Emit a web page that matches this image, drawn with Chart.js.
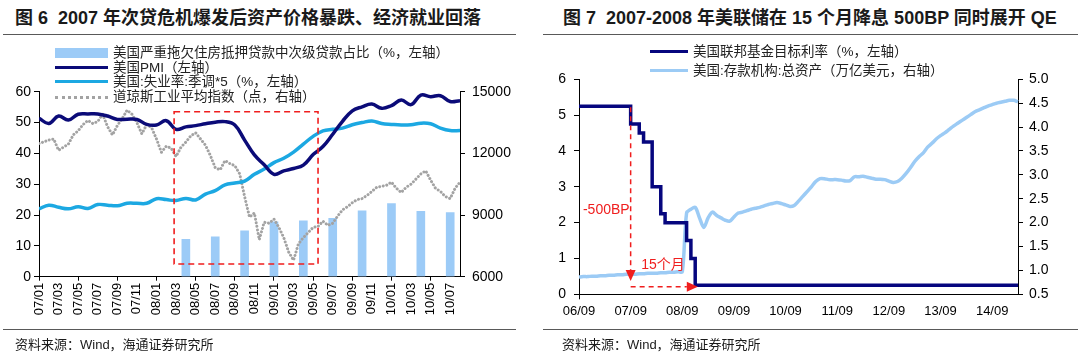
<!DOCTYPE html>
<html lang="zh-CN">
<head>
<meta charset="utf-8">
<title>次贷危机与美联储降息</title>
<script src="https://cdn.jsdelivr.net/npm/chart.js@4.4.1/dist/chart.umd.min.js"></script>
<style>
    body {
        margin: 0;
        width: 1080px;
        height: 359px;
        overflow: hidden;
        background: #fff;
        font-family: "Liberation Sans", "Noto Sans CJK SC", sans-serif;
        color: #1a1a1a;
    }
    .panel { position: absolute; top: 0; width: 540px; height: 359px; }
    .title { position: absolute; top: 7px; font-size: 18px; font-weight: bold; line-height: 22px; white-space: nowrap; }
    .rule { position: absolute; border-top: 1.5px solid #595959; }
    .source { position: absolute; top: 336px; font-size: 13px; line-height: 18px; white-space: nowrap; }
    .legend-item { position: absolute; height: 16px; line-height: 16px; font-size: 13.5px; white-space: nowrap; color: #222; }
    .swatch { position: absolute; }
    canvas { position: absolute; top: 40px; left: 0; }
</style>
</head>
<body>

<div class="panel" style="left:0">
    <div class="title" style="left:15px">图 6&nbsp;&nbsp;2007 年次贷危机爆发后资产价格暴跌、经济就业回落</div>
    <div class="rule" style="top:34px; left:3px; width:513px"></div>
    <canvas id="left-chart" width="530" height="290"></canvas>
    <div id="left-legend"></div>
    <div class="rule" style="top:329px; left:3px; width:513px"></div>
    <div class="source" style="left:15px">资料来源：Wind，海通证券研究所</div>
</div>

<div class="panel" style="left:540px">
    <div class="title" style="left:23px">图 7&nbsp;&nbsp;2007-2008 年美联储在 15 个月降息 500BP 同时展开 QE</div>
    <div class="rule" style="top:34px; left:3px; width:535px"></div>
    <canvas id="right-chart" width="540" height="290"></canvas>
    <div id="right-legend"></div>
    <div class="rule" style="top:329px; left:3px; width:535px"></div>
    <div class="source" style="left:22px">资料来源：Wind，海通证券研究所</div>
</div>

<script>
/**
 * 图6 / 图7: subprime crisis charts
 * Monthly values.
 */

// ---- 图6 ----
const LEFT_LABELS = [
    '07/01', '07/02', '07/03', '07/04', '07/05', '07/06', '07/07', '07/08', '07/09', '07/10', '07/11', '07/12',
    '08/01', '08/02', '08/03', '08/04', '08/05', '08/06', '08/07', '08/08', '08/09', '08/10', '08/11', '08/12',
    '09/01', '09/02', '09/03', '09/04', '09/05', '09/06', '09/07', '09/08', '09/09', '09/10', '09/11', '09/12',
    '10/01', '10/02', '10/03', '10/04', '10/05', '10/06', '10/07', '10/08'
];

const PMI_VALUES = [
    51.4, 49.7, 52.1, 50.8, 52.7, 52.8, 52.8, 52.1, 51.0, 51.1, 51.0, 49.4,
    49.2, 50.6, 47.8, 48.6, 49.0, 49.6, 50.1, 50.3, 49.2, 44.3, 39.5, 36.3,
    33.2, 34.3, 35.1, 36.2, 39.6, 42.2, 46.2, 50.4, 53.8, 55.1, 56.0, 54.6,
    55.5, 57.3, 55.8, 58.9, 58.4, 58.7, 56.8, 57.1
];

// unemployment rate x5
const UNEMP_VALUES = [
    22.0, 23.2, 22.5, 22.0, 22.7, 22.1, 23.4, 23.2, 23.0, 23.8, 23.8, 23.8,
    25.3, 25.0, 24.7, 25.4, 24.9, 26.8, 27.9, 29.8, 30.4, 31.0, 33.2, 34.9,
    37.0, 38.4, 40.4, 43.0, 45.5, 47.3, 47.8, 48.2, 49.3, 50.0, 50.5, 49.7,
    49.4, 49.2, 49.3, 49.8, 49.6, 48.2, 47.4, 47.4
];

const BAR_MONTHS = ['08/04', '08/07', '08/10', '09/01', '09/04', '09/07', '09/10', '10/01', '10/04', '10/07'];
const BAR_VALUES = [12.1, 12.9, 14.9, 17.8, 18.1, 18.9, 21.4, 23.7, 21.2, 20.8];

// Dow Jones, twice a month from 07/01
const DOW_STEP = 0.5;
const DOW_VALUES = [
    12480, 12560, 12650, 12700, 12150, 12300, 12450, 12900, 13100, 13400,
    13600, 13450, 13550, 13900, 13300, 12900, 13350, 13700, 14100, 13900,
    13500, 12950, 13400, 13250, 12700, 12050, 12350, 12250, 11850, 12300,
    12550, 12850, 13000, 12700, 12400, 11900, 11300, 11200, 11650, 11500,
    11400, 11000, 9900, 8900, 9100, 7800, 8650, 8600, 8800, 8400,
    7900, 7200, 6800, 7600, 7900, 8150, 8400, 8450, 8700, 8500,
    8600, 8950, 9250, 9400, 9600, 9750, 9800, 9950, 10150, 10350,
    10400, 10450, 10600, 10300, 10100, 10350, 10500, 10750, 11000, 11150,
    10700, 10300, 10150, 9900, 9800, 10300, 10600
];

// dashed box, in month index / left-axis units
const CRISIS_BOX = { from: 13.8, to: 28.5, low: 4.1, high: 53.5 };

// ---- 图7 ----
const RIGHT_LABELS = [
    '06/09', '06/10', '06/11', '06/12',
    '07/01', '07/02', '07/03', '07/04', '07/05', '07/06', '07/07', '07/08', '07/09', '07/10', '07/11', '07/12',
    '08/01', '08/02', '08/03', '08/04', '08/05', '08/06', '08/07', '08/08', '08/09', '08/10', '08/11', '08/12',
    '09/01', '09/02', '09/03', '09/04', '09/05', '09/06', '09/07', '09/08', '09/09', '09/10', '09/11', '09/12',
    '10/01', '10/02', '10/03', '10/04', '10/05', '10/06', '10/07', '10/08', '10/09', '10/10', '10/11', '10/12',
    '11/01', '11/02', '11/03', '11/04', '11/05', '11/06', '11/07', '11/08', '11/09', '11/10', '11/11', '11/12',
    '12/01', '12/02', '12/03', '12/04', '12/05', '12/06', '12/07', '12/08', '12/09', '12/10', '12/11', '12/12',
    '13/01', '13/02', '13/03', '13/04', '13/05', '13/06', '13/07', '13/08', '13/09', '13/10', '13/11', '13/12',
    '14/01', '14/02', '14/03', '14/04', '14/05', '14/06', '14/07', '14/08', '14/09', '14/10', '14/11', '14/12',
    '15/01', '15/02', '15/03'
];

const FED_RATE = [
    5.25, 5.25, 5.25, 5.25,
    5.25, 5.25, 5.25, 5.25, 5.25, 5.25, 5.25, 5.25, 4.75, 4.75, 4.5, 4.25,
    4.25, 3.0, 3.0, 2.25, 2.0, 2.0, 2.0, 2.0, 2.0, 1.5, 1.0, 0.25,
    0.25, 0.25, 0.25, 0.25, 0.25, 0.25, 0.25, 0.25, 0.25, 0.25, 0.25, 0.25,
    0.25, 0.25, 0.25, 0.25, 0.25, 0.25, 0.25, 0.25, 0.25, 0.25, 0.25, 0.25,
    0.25, 0.25, 0.25, 0.25, 0.25, 0.25, 0.25, 0.25, 0.25, 0.25, 0.25, 0.25,
    0.25, 0.25, 0.25, 0.25, 0.25, 0.25, 0.25, 0.25, 0.25, 0.25, 0.25, 0.25,
    0.25, 0.25, 0.25, 0.25, 0.25, 0.25, 0.25, 0.25, 0.25, 0.25, 0.25, 0.25,
    0.25, 0.25, 0.25, 0.25, 0.25, 0.25, 0.25, 0.25, 0.25, 0.25, 0.25, 0.25,
    0.25, 0.25, 0.25
];

const BANK_ASSETS = [
    0.86, 0.87, 0.87, 0.88,
    0.88, 0.89, 0.89, 0.90, 0.90, 0.91, 0.91, 0.92, 0.92, 0.92, 0.93, 0.93,
    0.94, 0.94, 0.94, 0.95, 0.95, 0.96, 0.96, 0.97, 0.97, 2.20, 2.28, 2.32,
    2.10, 1.90, 2.10, 2.22, 2.15, 2.10, 2.05, 2.03, 2.12, 2.20, 2.22, 2.25,
    2.28, 2.30, 2.32, 2.35, 2.38, 2.40, 2.42, 2.40, 2.37, 2.34, 2.36, 2.45,
    2.55, 2.65, 2.75, 2.86, 2.92, 2.92, 2.90, 2.90, 2.90, 2.89, 2.87, 2.88,
    2.96, 2.96, 2.97, 2.95, 2.93, 2.91, 2.91, 2.90, 2.87, 2.84, 2.86, 2.93,
    3.03, 3.15, 3.28, 3.38, 3.46, 3.58, 3.66, 3.75, 3.82, 3.88, 3.95, 4.02,
    4.08, 4.14, 4.20, 4.26, 4.32, 4.36, 4.40, 4.44, 4.47, 4.50, 4.52, 4.54,
    4.56, 4.56, 4.53
];

// arrows: month index / left-axis units
const RATE_CUT = { start: 12, end: 27.6, top: 5.22, bottom: 0.37, level: 0.21 };
const CUT_LABEL = { text: '-500BP', value: 2.35 };
const SPAN_LABEL = { text: '15个月', index: 19.5, value: 0.82 };

const RED = '#F01E1E';
const AXIS_FONT = 'Liberation Sans, Arial, sans-serif';

function axisStyle(size) {
    return {
        color: '#000',
        font: { family: AXIS_FONT, size: size }
    };
}

function drawArrow(ctx, x1, y1, x2, y2) {
    const angle = Math.atan2(y2 - y1, x2 - x1);
    const headLen = 11;
    const half = 5;
    const bx = x2 - headLen * Math.cos(angle);
    const by = y2 - headLen * Math.sin(angle);

    ctx.beginPath();
    ctx.moveTo(x1, y1);
    ctx.lineTo(bx, by);
    ctx.stroke();

    ctx.setLineDash([]);
    ctx.beginPath();
    ctx.moveTo(x2, y2);
    ctx.lineTo(bx + half * Math.sin(angle), by - half * Math.cos(angle));
    ctx.lineTo(bx - half * Math.sin(angle), by + half * Math.cos(angle));
    ctx.closePath();
    ctx.fill();
}

const crisisBoxPlugin = {
    id: 'crisisBox',
    afterDatasetsDraw(chart) {
        const { ctx } = chart;
        const x = chart.scales.x;
        const y = chart.scales.y;
        const left = x.getPixelForValue(CRISIS_BOX.from);
        const right = x.getPixelForValue(CRISIS_BOX.to);
        const top = y.getPixelForValue(CRISIS_BOX.high);
        const bottom = y.getPixelForValue(CRISIS_BOX.low);

        ctx.save();
        ctx.strokeStyle = RED;
        ctx.lineWidth = 1.6;
        ctx.setLineDash([6, 4]);
        ctx.strokeRect(left, top, right - left, bottom - top);
        ctx.restore();
    }
};

const rateCutPlugin = {
    id: 'rateCut',
    afterDatasetsDraw(chart) {
        const { ctx } = chart;
        const x = chart.scales.x;
        const y = chart.scales.y;
        const x0 = x.getPixelForValue(RATE_CUT.start);
        const x1 = x.getPixelForValue(RATE_CUT.end);

        ctx.save();
        ctx.strokeStyle = RED;
        ctx.fillStyle = RED;
        ctx.lineWidth = 1.5;

        ctx.setLineDash([5, 4]);
        drawArrow(ctx, x0, y.getPixelForValue(RATE_CUT.top), x0, y.getPixelForValue(RATE_CUT.bottom));

        ctx.setLineDash([5, 4]);
        const yl = y.getPixelForValue(RATE_CUT.level);
        drawArrow(ctx, x0, yl, x1, yl);

        ctx.font = '14px ' + AXIS_FONT;
        ctx.textBaseline = 'middle';
        ctx.textAlign = 'right';
        ctx.fillText(CUT_LABEL.text, x0 - 1, y.getPixelForValue(CUT_LABEL.value));

        ctx.font = '14px "Liberation Sans", "Noto Sans CJK SC", sans-serif';
        ctx.textAlign = 'center';
        ctx.fillText(SPAN_LABEL.text, x.getPixelForValue(SPAN_LABEL.index), y.getPixelForValue(SPAN_LABEL.value));
        ctx.restore();
    }
};

function buildLegend(containerId, chart, layout) {
    const box = document.getElementById(containerId);
    box.innerHTML = '';

    chart.data.datasets.forEach((ds, i) => {
        const top = layout.top + i * layout.gap;

        const swatch = document.createElement('div');
        swatch.className = 'swatch';
        swatch.style.left = layout.left + 'px';
        swatch.style.width = layout.width + 'px';
        if (ds.type === 'bar') {
            swatch.style.top = (top + 3) + 'px';
            swatch.style.height = '10px';
            swatch.style.background = ds.backgroundColor;
        } else if (ds.borderDash) {
            swatch.style.top = (top + 7) + 'px';
            swatch.style.borderTop = '3px dotted ' + ds.borderColor;
        } else {
            swatch.style.top = (top + 6) + 'px';
            swatch.style.borderTop = ds.borderWidth + 'px solid ' + ds.borderColor;
        }
        box.appendChild(swatch);

        const text = document.createElement('div');
        text.className = 'legend-item';
        text.style.left = (layout.left + layout.width + 5) + 'px';
        text.style.top = top + 'px';
        text.textContent = ds.label;
        box.appendChild(text);
    });
}

function renderLeftChart() {
    const ctx = document.getElementById('left-chart');
    const lastIndex = LEFT_LABELS.length - 1;

    const barData = BAR_MONTHS.map((month, k) => ({ x: LEFT_LABELS.indexOf(month), y: BAR_VALUES[k] }));

    return new Chart(ctx, {
        type: 'bar',
        data: {
            datasets: [{
                type: 'bar',
                label: '美国严重拖欠住房抵押贷款中次级贷款占比（%，左轴）',
                data: barData,
                backgroundColor: '#9CCBF7',
                barThickness: 8,
                yAxisID: 'y',
                order: 4
            }, {
                type: 'line',
                label: '美国PMI（左轴）',
                data: PMI_VALUES.map((v, i) => ({ x: i, y: v })),
                borderColor: '#0B0B78',
                borderWidth: 3.5,
                pointRadius: 0,
                tension: 0.4,
                yAxisID: 'y',
                order: 1
            }, {
                type: 'line',
                label: '美国:失业率:季调*5（%，左轴）',
                data: UNEMP_VALUES.map((v, i) => ({ x: i, y: v })),
                borderColor: '#1CA8E2',
                borderWidth: 3.5,
                pointRadius: 0,
                tension: 0.4,
                yAxisID: 'y',
                order: 2
            }, {
                type: 'line',
                label: '道琼斯工业平均指数（点，右轴）',
                data: DOW_VALUES.map((v, i) => ({ x: i * DOW_STEP, y: v })),
                borderColor: '#A3A3A3',
                borderWidth: 3,
                borderDash: [0.01, 3.6],
                borderCapStyle: 'round',
                pointRadius: 0,
                tension: 0,
                yAxisID: 'y1',
                order: 3
            }]
        },
        options: {
            responsive: false,
            animation: false,
            layout: { padding: { top: 51.7, left: 0, right: 0, bottom: 0 } },
            plugins: { legend: { display: false }, tooltip: { enabled: false } },
            scales: {
                x: {
                    type: 'linear',
                    offset: false,
                    min: 0,
                    max: lastIndex,
                    border: { color: '#000', width: 1 },
                    grid: {
                        offset: false,
                        drawOnChartArea: false,
                        tickLength: 4,
                        tickColor: c => (c.index % 2 === 0 ? '#000' : 'rgba(0,0,0,0)')
                    },
                    ticks: {
                        ...axisStyle(13),
                        stepSize: 1,
                        autoSkip: false,
                        minRotation: 90,
                        maxRotation: 90,
                        padding: 2,
                        callback: value => (Number.isInteger(value) && value % 2 === 0 ? LEFT_LABELS[value] : null)
                    },
                    afterFit: scale => { scale.height = 53.3; }
                },
                y: {
                    position: 'left',
                    min: 0,
                    max: 60,
                    border: { color: '#000', width: 1 },
                    grid: { drawOnChartArea: false, tickLength: 5, color: '#000' },
                    ticks: { ...axisStyle(14), stepSize: 10, padding: 3 },
                    afterFit: scale => { scale.width = 39; }
                },
                y1: {
                    position: 'right',
                    min: 6000,
                    max: 15000,
                    border: { color: '#000', width: 1 },
                    grid: { drawOnChartArea: false, tickLength: 5, color: '#000' },
                    ticks: { ...axisStyle(14), stepSize: 3000, padding: 7, callback: v => String(v) },
                    afterFit: scale => { scale.width = 70; }
                }
            }
        },
        plugins: [crisisBoxPlugin]
    });
}

function renderRightChart() {
    const ctx = document.getElementById('right-chart');
    const isSeptember = i => RIGHT_LABELS[i].endsWith('/09');

    return new Chart(ctx, {
        type: 'line',
        data: {
            labels: RIGHT_LABELS,
            datasets: [{
                label: '美国联邦基金目标利率（%，左轴）',
                data: FED_RATE,
                borderColor: '#06067E',
                borderWidth: 3.5,
                stepped: true,
                pointRadius: 0,
                yAxisID: 'y',
                order: 1
            }, {
                label: '美国:存款机构:总资产（万亿美元，右轴）',
                data: BANK_ASSETS,
                borderColor: '#9CCBF5',
                borderWidth: 3.5,
                tension: 0.3,
                pointRadius: 0,
                yAxisID: 'y1',
                order: 2
            }]
        },
        options: {
            responsive: false,
            animation: false,
            layout: { padding: { top: 39.3, left: 0, right: 0, bottom: 0 } },
            plugins: { legend: { display: false }, tooltip: { enabled: false } },
            scales: {
                x: {
                    type: 'category',
                    offset: false,
                    border: { color: '#000', width: 1 },
                    grid: {
                        drawOnChartArea: false,
                        tickLength: 5,
                        tickColor: c => (isSeptember(c.index) ? '#000' : 'rgba(0,0,0,0)')
                    },
                    ticks: {
                        ...axisStyle(13),
                        autoSkip: false,
                        maxRotation: 0,
                        padding: 4,
                        callback: (value, index) => (isSeptember(index) ? RIGHT_LABELS[index] : null)
                    },
                    afterFit: scale => { scale.height = 35.7; }
                },
                y: {
                    position: 'left',
                    min: 0,
                    max: 6,
                    border: { color: '#000', width: 1 },
                    grid: { drawOnChartArea: false, tickLength: 5, color: '#000' },
                    ticks: { ...axisStyle(14), stepSize: 1, padding: 8 },
                    afterFit: scale => { scale.width = 39; }
                },
                y1: {
                    position: 'right',
                    min: 0.5,
                    max: 5.0,
                    border: { color: '#000', width: 1 },
                    grid: { drawOnChartArea: false, tickLength: 5, color: '#000' },
                    ticks: { ...axisStyle(14), stepSize: 0.5, padding: 6, callback: v => v.toFixed(1) },
                    afterFit: scale => { scale.width = 62; }
                }
            }
        },
        plugins: [rateCutPlugin]
    });
}

try {
    const leftChart = renderLeftChart();
    buildLegend('left-legend', leftChart, { top: 45, gap: 14.7, left: 55, width: 53 });

    const rightChart = renderRightChart();
    buildLegend('right-legend', rightChart, { top: 44, gap: 19, left: 110, width: 38 });
} catch (error) {
    console.error('Failed to render charts:', error);
}
</script>
</body>
</html>
